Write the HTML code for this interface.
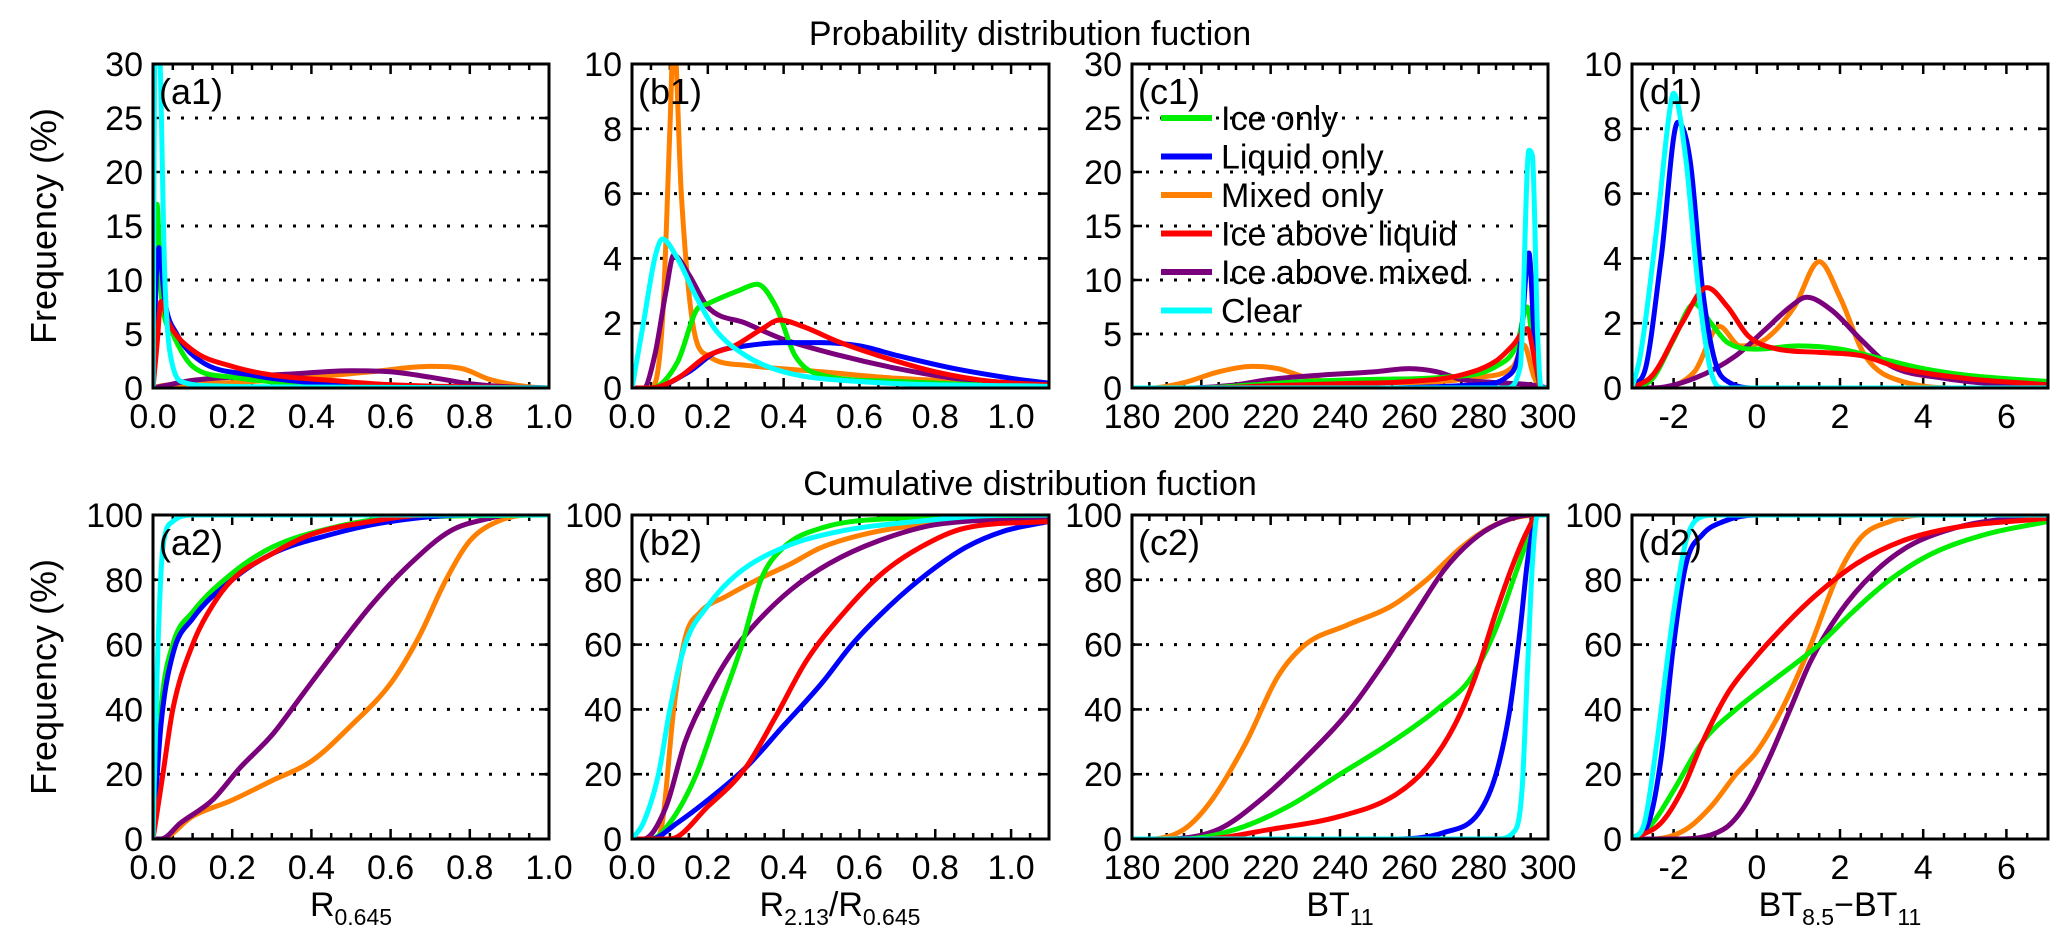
<!DOCTYPE html>
<html><head><meta charset="utf-8"><style>
body{margin:0;background:#fff;}
svg{display:block;font-family:"Liberation Sans",sans-serif;}
</style></head><body>
<svg id="chart" width="2067" height="944" viewBox="0 0 2067 944" xmlns="http://www.w3.org/2000/svg">
<text x="1030" y="45" font-size="34" text-anchor="middle">Probability distribution fuction</text>
<text x="1030" y="495" font-size="34" text-anchor="middle">Cumulative distribution fuction</text>
<text transform="translate(56,226) rotate(-90)" font-size="36" text-anchor="middle">Frequency (%)</text>
<text transform="translate(56,677) rotate(-90)" font-size="36" text-anchor="middle">Frequency (%)</text>
<text x="351" y="916" font-size="34" text-anchor="middle">R<tspan font-size="23" dy="9">0.645</tspan></text>
<text x="840" y="916" font-size="34" text-anchor="middle">R<tspan font-size="23" dy="9">2.13</tspan><tspan dy="-9">/R</tspan><tspan font-size="23" dy="9">0.645</tspan></text>
<text x="1340" y="916" font-size="34" text-anchor="middle">BT<tspan font-size="23" dy="9">11</tspan></text>
<text x="1840" y="916" font-size="34" text-anchor="middle">BT<tspan font-size="23" dy="9">8.5</tspan><tspan dy="-9">−BT</tspan><tspan font-size="23" dy="9">11</tspan></text>
</svg>
<script>
// ---- data ----
const seriesNames = ["Ice only","Liquid only","Mixed only","Ice above liquid","Ice above mixed","Clear"];
const seriesColors = ["#00ee00","#0000ff","#ff8000","#ff0000","#7b007b","#00ffff"];
const drawOrder = [2,4,0,1,3,5];

// a1: R0.645 PDF
const a1X = [
 [0,0.005,0.01,0.02,0.05,0.1,0.2,0.4,0.6,1],
 [0,0.008,0.015,0.03,0.06,0.12,0.25,0.4,0.6,1],
 [0,0.02,0.2,0.4,0.55,0.7,0.78,0.85,0.95,1],
 [0,0.01,0.02,0.04,0.1,0.2,0.3,0.45,0.6,0.8,1],
 [0,0.1,0.2,0.35,0.5,0.6,0.7,0.8,0.9,1],
 [0,0.005,0.015,0.03,0.05,0.08,0.15,0.3,1]];
const a1Y = [
 [0,14,17,9,5,2,1,0.3,0.1,0],
 [0,10,13,8,5,2.5,1.2,0.5,0.2,0],
 [0,0.2,0.5,1,1.5,2,1.8,0.8,0.1,0],
 [0,4,8,6,3.5,2,1.2,0.7,0.3,0.1,0],
 [0,0.7,1,1.3,1.6,1.5,1,0.4,0.1,0],
 [0,32,32,10,2,0.5,0.2,0.1,0]];
// b1: R2.13/R0.645 PDF
const b1X = [
 [0,0.05,0.12,0.17,0.2,0.28,0.33,0.38,0.43,0.5,0.7,1.1],
 [0,0.05,0.15,0.22,0.3,0.4,0.5,0.6,0.7,0.85,1,1.1],
 [0,0.05,0.08,0.1,0.11,0.13,0.16,0.2,0.3,0.5,0.7,1.1],
 [0,0.05,0.12,0.2,0.27,0.34,0.39,0.45,0.55,0.65,0.8,0.95,1.1],
 [0,0.03,0.06,0.09,0.11,0.15,0.2,0.3,0.4,0.55,0.7,0.85,1.1],
 [0,0.03,0.06,0.08,0.12,0.17,0.22,0.3,0.4,0.6,1.1]];
const b1Y = [
 [0,0,0.8,2.4,2.6,3,3.2,2.5,1,0.4,0.2,0],
 [0,0,0.5,1.1,1.3,1.4,1.4,1.3,1,0.6,0.3,0.15],
 [0,0,2,8,11,6,2,1,0.7,0.5,0.3,0.1],
 [0,0,0.3,1,1.3,1.8,2.1,1.9,1.4,1,0.5,0.2,0.1],
 [0,0,1,3,4.1,3.5,2.5,2,1.5,1,0.6,0.3,0.1],
 [0,2,4,4.6,4,2.8,1.8,1,0.5,0.2,0.05]];
// c1: BT11 PDF
const c1X = [
 [180,200,215,230,250,270,285,291,294,296,298,300],
 [180,250,280,288,292,294.5,296,298,300],
 [180,185,195,205,215,222,230,240,260,280,290,293,296,298,300],
 [180,200,220,240,260,275,285,290,294,296.5,298,300],
 [180,195,210,220,235,250,260,268,275,285,295,300],
 [180,288,292,294.5,295.5,297,298,300]];
const c1Y = [
 [0,0,0.3,0.6,0.8,1,2,4,7.5,3,0,0],
 [0,0,0.3,1,4,12.5,5,0,0],
 [0,0,0.5,1.5,2,1.8,1,0.5,0.5,1,2,4,1,0,0],
 [0,0,0.2,0.4,0.6,1.2,2.5,4,5.5,2,0,0],
 [0,0,0.3,0.8,1.2,1.5,1.8,1.5,0.8,0.5,0.3,0],
 [0,0,2,22,21.5,5,0,0]];
// d1: BT8.5-BT11 PDF
const d1X = [
 [-3,-2.5,-2,-1.5,-1.1,-0.7,0,1,2,3,4,5,7],
 [-3,-2.7,-2.3,-1.9,-1.6,-1.3,-1,-0.7,0,7],
 [-3,-2.5,-1.5,-0.9,-0.4,0.2,0.9,1.5,2,2.6,3.5,5,7],
 [-3,-2.5,-1.8,-1.2,-0.7,-0.2,0.5,1.5,2.5,3.5,5,7],
 [-3,-2.5,-1.5,-0.5,0.2,0.8,1.2,1.8,2.5,3.2,4.5,6,7],
 [-3,-2.8,-2.4,-2.1,-2,-1.7,-1.4,-1.1,-0.8,7]];
const d1Y = [
 [0,0.3,1.5,2.6,2,1.4,1.2,1.3,1.2,0.9,0.6,0.4,0.2],
 [0.1,0.5,4,8.2,7,3,0.8,0.2,0,0],
 [0,0,0.5,1.9,1.3,1.5,2.5,3.9,2.8,1,0.2,0,0],
 [0,0.4,2,3.1,2.5,1.6,1.2,1.1,1,0.6,0.3,0.1],
 [0,0,0.3,1,1.8,2.5,2.8,2.4,1.5,0.7,0.3,0.1,0.05],
 [0,1,5,8.5,9.1,7,3,0.5,0,0]];
// a2: R0.645 CDF
const a2X = [
 [0,0.02,0.05,0.1,0.2,0.3,0.45,0.6,1],
 [0,0.02,0.05,0.1,0.2,0.3,0.45,0.6,0.8,1],
 [0,0.02,0.1,0.2,0.3,0.4,0.5,0.6,0.67,0.74,0.8,0.87,0.95,1],
 [0,0.025,0.05,0.1,0.15,0.2,0.3,0.4,0.55,0.7,1],
 [0,0.02,0.07,0.15,0.22,0.3,0.38,0.46,0.55,0.65,0.75,0.85,0.9,1],
 [0,0.01,0.025,0.05,0.1,1]];
const a2Y = [
 [0,40,60,70,82,90,96,99,100],
 [0,35,57,68,80,88,94,98,100,100],
 [0,0,7,12,18,24,35,48,62,80,92,98,100,100],
 [0,20,40,60,72,80,88,94,98,100,100],
 [0,0,5,12,22,32,45,58,72,85,95,99,100,100],
 [0,50,90,98,100,100]];
// b2: R2.13/R0.645 CDF
const b2X = [
 [0,0.05,0.1,0.17,0.23,0.29,0.34,0.4,0.5,0.7,1.1],
 [0,0.05,0.12,0.2,0.3,0.4,0.5,0.58,0.68,0.78,0.88,0.98,1.1],
 [0,0.06,0.08,0.11,0.14,0.18,0.25,0.33,0.42,0.5,0.65,0.85,1.1],
 [0,0.1,0.2,0.3,0.38,0.46,0.56,0.66,0.76,0.88,1.1],
 [0,0.03,0.09,0.14,0.2,0.26,0.33,0.42,0.52,0.65,0.8,1.1],
 [0,0.03,0.07,0.1,0.14,0.2,0.28,0.4,0.55,0.75,1,1.1]];
const b2Y = [
 [0,0,5,20,40,60,80,90,96,99,100],
 [0,0,5,12,22,35,48,60,72,82,90,95,98],
 [0,0,5,40,62,70,75,80,85,90,95,98,100],
 [0,0,10,22,38,55,70,82,90,96,98],
 [0,0,10,30,45,57,67,77,85,92,97,99],
 [0,5,20,40,60,72,82,90,95,98,100,100]];
// c2: BT11 CDF
const c2X = [
 [180,195,210,225,240,255,268,278,285,290,294,297,300],
 [180,255,270,280,285,289,292,294,295.5,297,300],
 [180,185,195,203,213,222,230,242,255,265,275,283,290,298,300],
 [180,200,220,240,255,265,273,279,285,290,294,297,300],
 [180,190,205,217,230,243,253,262,270,278,285,295,300],
 [180,285,290,292.5,294,295.5,297,300]];
const c2Y = [
 [0,0,3,10,20,30,40,50,65,80,92,100,100],
 [0,0,2,8,20,40,65,85,95,100,100],
 [0,0,3,12,30,50,60,66,72,80,90,96,99,100,100],
 [0,0,3,7,13,22,35,50,70,85,95,100,100],
 [0,0,3,12,25,40,55,70,83,92,97,100,100],
 [0,0,2,15,50,85,100,100]];
// d2: BT8.5-BT11 CDF
const d2X = [
 [-3,-2.5,-2,-1.3,-0.5,0.5,1.5,2.3,3.2,4.2,5.5,7],
 [-3,-2.6,-2.3,-2,-1.7,-1.3,-0.8,0,7],
 [-3,-2.5,-1.7,-1.1,-0.5,0,0.6,1.3,1.9,2.5,3.2,4,7],
 [-3,-2.3,-1.8,-1.3,-0.7,-0.1,0.6,1.4,2.4,3.5,4.7,7],
 [-3,-2,-0.8,-0.3,0.3,0.8,1.3,2,2.8,3.6,4.5,5.5,7],
 [-3,-2.7,-2.4,-2,-1.7,-1.4,-1,7]];
const d2Y = [
 [0,5,15,30,40,50,60,70,80,88,94,98],
 [0,5,25,60,85,94,98,100,100],
 [0,0,3,10,20,27,40,60,80,93,98,100,100],
 [0,5,15,30,45,55,65,75,85,92,96,99],
 [0,0,3,10,25,40,55,70,82,90,95,98,99.5],
 [0,5,30,70,92,99,100,100]];

// tick labels
const ticksA = ["0.0","0.2","0.4","0.6","0.8","1.0"];
const ticksB = ["0.0","0.2","0.4","0.6","0.8","1.0"];
const ticksC = ["180","200","220","240","260","280","300"];
const ticksD = ["-2","0","2","4","6"];
const ticksY30 = ["0","5","10","15","20","25","30"];
const ticksY10 = ["0","2","4","6","8","10"];
const ticksY100 = ["0","20","40","60","80","100"];

const panels = [
 {id:"a1",x0:153,x1:549,y0:64,y1:388,xmin:0,xmax:1,ymin:0,ymax:30,xt:ticksA,yt:ticksY30,minor:0.05,X:a1X,Y:a1Y},
 {id:"b1",x0:632,x1:1049,y0:64,y1:388,xmin:0,xmax:1.1,ymin:0,ymax:10,xt:ticksB,yt:ticksY10,minor:0.05,X:b1X,Y:b1Y},
 {id:"c1",x0:1132,x1:1548,y0:64,y1:388,xmin:180,xmax:300,ymin:0,ymax:30,xt:ticksC,yt:ticksY30,minor:5,X:c1X,Y:c1Y,legend:true},
 {id:"d1",x0:1632,x1:2048,y0:64,y1:388,xmin:-3,xmax:7,ymin:0,ymax:10,xt:ticksD,yt:ticksY10,minor:0.5,X:d1X,Y:d1Y},
 {id:"a2",x0:153,x1:549,y0:515,y1:839,xmin:0,xmax:1,ymin:0,ymax:100,xt:ticksA,yt:ticksY100,minor:0.05,X:a2X,Y:a2Y},
 {id:"b2",x0:632,x1:1049,y0:515,y1:839,xmin:0,xmax:1.1,ymin:0,ymax:100,xt:ticksB,yt:ticksY100,minor:0.05,X:b2X,Y:b2Y},
 {id:"c2",x0:1132,x1:1548,y0:515,y1:839,xmin:180,xmax:300,ymin:0,ymax:100,xt:ticksC,yt:ticksY100,minor:5,X:c2X,Y:c2Y},
 {id:"d2",x0:1632,x1:2048,y0:515,y1:839,xmin:-3,xmax:7,ymin:0,ymax:100,xt:ticksD,yt:ticksY100,minor:0.5,X:d2X,Y:d2Y}
];

const NS="http://www.w3.org/2000/svg";
const svg=document.getElementById("chart");
function mk(tag,attrs,parent){const e=document.createElementNS(NS,tag);for(const k in attrs)e.setAttribute(k,attrs[k]);(parent||svg).appendChild(e);return e;}

// monotone cubic path (no overshoot)
function monoPath(xs,ys){
  const n=xs.length; if(n<2) return "";
  const d=[],m=new Array(n);
  for(let i=0;i<n-1;i++) d.push((ys[i+1]-ys[i])/((xs[i+1]-xs[i])||1e-6));
  m[0]=d[0]; m[n-1]=d[n-2];
  for(let i=1;i<n-1;i++){ m[i]=(d[i-1]*d[i]<=0)?0:(d[i-1]+d[i])/2; }
  for(let i=0;i<n-1;i++){
    if(d[i]===0){m[i]=0;m[i+1]=0;continue;}
    const a=m[i]/d[i],b=m[i+1]/d[i],s=a*a+b*b;
    if(s>9){const t=3/Math.sqrt(s);m[i]=t*a*d[i];m[i+1]=t*b*d[i];}
  }
  let p="M"+xs[0].toFixed(1)+","+ys[0].toFixed(1);
  for(let i=0;i<n-1;i++){
    const h=(xs[i+1]-xs[i])/3;
    p+=" C"+(xs[i]+h).toFixed(1)+","+(ys[i]+m[i]*h).toFixed(1)+" "+(xs[i+1]-h).toFixed(1)+","+(ys[i+1]-m[i+1]*h).toFixed(1)+" "+xs[i+1].toFixed(1)+","+ys[i+1].toFixed(1);
  }
  return p;
}

const defs=mk("defs",{});
panels.forEach(p=>{
  const sx=v=>p.x0+(v-p.xmin)/(p.xmax-p.xmin)*(p.x1-p.x0);
  const sy=v=>p.y1-(v-p.ymin)/(p.ymax-p.ymin)*(p.y1-p.y0);
  const g=mk("g",{});
  
  
  const cp=mk("clipPath",{id:"clip-"+p.id},defs);
  mk("rect",{x:p.x0,y:p.y0,width:p.x1-p.x0,height:p.y1-p.y0},cp);
  p.yt.forEach(t=>{
    const v=parseFloat(t); if(v<=p.ymin||v>=p.ymax) return;
    const l=mk("line",{x1:p.x0,x2:p.x1,y1:sy(v),y2:sy(v),stroke:"#000","stroke-width":3,"stroke-dasharray":"3 11"},g);
    
    
  });
  const xmajor=p.xt.map(parseFloat);
  for(let v=Math.ceil(p.xmin/p.minor-1e-9)*p.minor; v<=p.xmax+1e-9; v+=p.minor){
    const isMaj=xmajor.some(m=>Math.abs(m-v)<1e-6);
    const len=isMaj?10:6, X=sx(v);
    mk("line",{x1:X,x2:X,y1:p.y1,y2:p.y1-len,stroke:"#000","stroke-width":2.5},g);
    mk("line",{x1:X,x2:X,y1:p.y0,y2:p.y0+len,stroke:"#000","stroke-width":2.5},g);
  }
  p.xt.forEach(t=>{
    const tx=mk("text",{x:sx(parseFloat(t)),y:p.y1+40,"font-size":34,"text-anchor":"middle"},g);
    tx.textContent=t;
    
    
  });
  p.yt.forEach(t=>{
    const v=parseFloat(t),Y=sy(v);
    mk("line",{x1:p.x0,x2:p.x0+10,y1:Y,y2:Y,stroke:"#000","stroke-width":2.5},g);
    mk("line",{x1:p.x1,x2:p.x1-10,y1:Y,y2:Y,stroke:"#000","stroke-width":2.5},g);
    const tx=mk("text",{x:p.x0-10,y:Y+12,"font-size":34,"text-anchor":"end"},g);
    tx.textContent=t;
    
    
  });
  const lg=mk("g",{"clip-path":"url(#clip-"+p.id+")"},g);
  drawOrder.forEach(si=>{
    const xs=p.X[si].map(sx), ys=p.Y[si].map(sy);
    const pl=mk("path",{d:monoPath(xs,ys),fill:"none",stroke:seriesColors[si],"stroke-width":5,"stroke-linejoin":"round","stroke-linecap":"round"},lg);
    
    
  });
  const fr=mk("rect",{x:p.x0,y:p.y0,width:p.x1-p.x0,height:p.y1-p.y0,fill:"none",stroke:"#000","stroke-width":3},g);
  
  
  const lab=mk("text",{x:p.x0+6,y:p.y0+40,"font-size":36},g);
  lab.textContent="("+p.id+")";
  
  
  if(p.legend){
    const leg=mk("g",{},g);
    
    
    seriesNames.forEach((n,i)=>{
      const Y=118+i*38.5;
      const e=mk("g",{},leg);
      
      
      mk("line",{x1:1161,x2:1212,y1:Y,y2:Y,stroke:seriesColors[i],"stroke-width":6},e);
      const t=mk("text",{x:1221,y:Y+12,"font-size":34},e);
      t.textContent=n;
    });
  }
});
</script>
</body></html>
